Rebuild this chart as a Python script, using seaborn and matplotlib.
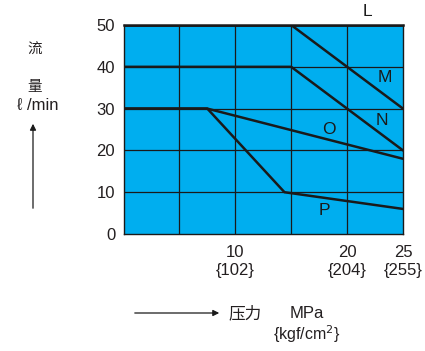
import matplotlib
matplotlib.use("Agg")
import matplotlib.pyplot as plt
import seaborn as sns
import pandas as pd

# pressure (MPa) / flow (l/min) break points of each curve
curve_names = ["L", "M", "N", "O", "P"]
curve_x = [
    [0, 25],
    [0, 15, 25],
    [0, 15, 25],
    [0, 7.5, 25],
    [0, 7.5, 14.4, 25],
]
curve_y = [
    [50, 50],
    [50, 50, 30],
    [40, 40, 20],
    [30, 30, 18],
    [30, 30, 10, 6],
]
label_pos = {"L": (21.8, 53.3), "M": (23.4, 37.4), "N": (23.1, 27.1),
             "O": (18.4, 24.9), "P": (18.0, 5.7)}

x_ticks = [10, 20, 25]
x_tick_labels = ["10\n{102}", "20\n{204}", "25\n{255}"]
y_ticks = [0, 10, 20, 30, 40, 50]

rows = []
for name, xs, ys in zip(curve_names, curve_x, curve_y):
    for x, y in zip(xs, ys):
        rows.append({"curve": name, "MPa": x, "flow": y})
df = pd.DataFrame(rows)

sns.set_style("white")
plt.rcParams["font.family"] = ["Liberation Sans", "Noto Sans CJK SC", "DejaVu Sans"]

fig = plt.figure(figsize=(4.25, 3.51), dpi=100)
ax = fig.add_axes([0.2906, 0.3333, 0.6576, 0.5954])
ax.set_facecolor("#00AEEF")

# grid every 5 MPa / 10 l/min
for gx in range(5, 25, 5):
    ax.axvline(gx, color="#1a1a1a", lw=0.9, zorder=1)
for gy in range(10, 50, 10):
    ax.axhline(gy, color="#1a1a1a", lw=0.9, zorder=1)

sns.lineplot(data=df, x="MPa", y="flow", units="curve", estimator=None,
             color="#1a1a1a", lw=1.8, ax=ax, zorder=3, legend=False)

for name, (lx, ly) in label_pos.items():
    ax.text(lx, ly, name, fontsize=12.5, ha="center", va="center",
            color="#1a1a1a", clip_on=False)

ax.set_xlim(0, 25)
ax.set_ylim(0, 50)
ax.set_xticks(x_ticks)
ax.set_xticklabels(x_tick_labels, fontsize=12, color="#231f20", linespacing=1.25)
ax.set_yticks(y_ticks)
ax.set_yticklabels([str(v) for v in y_ticks], fontsize=12, color="#231f20")
ax.tick_params(axis="x", length=0, pad=8)
ax.tick_params(axis="y", length=0, pad=6)
ax.set_xlabel("")
ax.set_ylabel("")
for side, sp in ax.spines.items():
    sp.set_color("#1a1a1a")
    sp.set_linewidth(1.0)
ax.spines["top"].set_linewidth(1.8)

# y axis caption
fig.text(35 / 425, 1 - 50 / 351, "流", fontsize=10.5, ha="center", va="center",
         color="#231f20")
fig.text(35 / 425, 1 - 87 / 351, "量", fontsize=10.5, ha="center", va="center",
         color="#231f20")
fig.text(38 / 425, 1 - 106 / 351, "ℓ /min", fontsize=12, ha="center", va="center",
         color="#231f20")
fig.add_artist(matplotlib.patches.FancyArrowPatch(
    (33 / 425, 1 - 211 / 351), (33 / 425, 1 - 121 / 351),
    transform=fig.transFigure, arrowstyle="-|>", mutation_scale=9,
    color="#1a1a1a", lw=0.9))

# x axis caption
fig.add_artist(matplotlib.patches.FancyArrowPatch(
    (132 / 425, 1 - 313 / 351), (222 / 425, 1 - 313 / 351),
    transform=fig.transFigure, arrowstyle="-|>", mutation_scale=9,
    color="#1a1a1a", lw=0.9))
fig.text(245 / 425, 1 - 313 / 351, "压力", fontsize=12, ha="center", va="center",
         color="#231f20")
fig.text(307 / 425, 1 - 313 / 351, "MPa", fontsize=12, ha="center", va="center",
         color="#231f20")
fig.text(307 / 425, 1 - 334 / 351, "{kgf/cm$^2$}", fontsize=11.5, ha="center",
         va="center", color="#231f20")

fig.savefig("out.png", dpi=100)
